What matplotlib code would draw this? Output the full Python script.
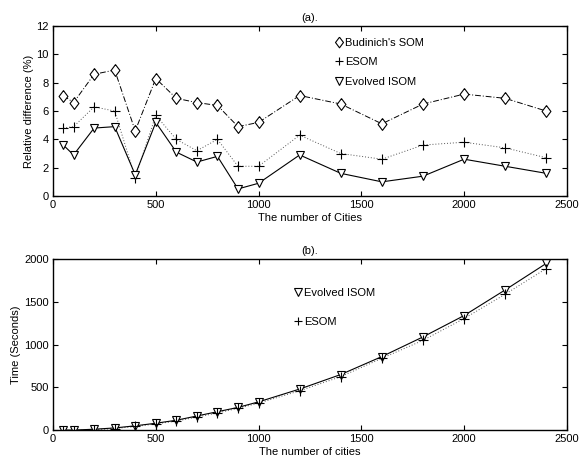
import matplotlib
matplotlib.use('Agg')
from matplotlib import pyplot as plt

plt.rcParams['font.family'] = ['Liberation Sans', 'DejaVu Sans']
plt.rcParams['font.size'] = 8

cities = [50, 100, 200, 300, 400, 500, 600, 700, 800, 900, 1000, 1200, 1400, 1600, 1800, 2000, 2200, 2400]

# (a) relative difference (%)
budinich = [7.1, 6.6, 8.6, 8.9, 4.6, 8.3, 6.9, 6.6, 6.4, 4.9, 5.2, 7.1, 6.5, 5.1, 6.5, 7.2, 6.9, 6.0]
esom_diff = [4.8, 4.9, 6.3, 6.0, 1.3, 5.7, 4.0, 3.2, 4.0, 2.1, 2.1, 4.3, 3.0, 2.6, 3.6, 3.8, 3.4, 2.7]
isom_diff = [3.6, 2.9, 4.8, 4.9, 1.5, 5.2, 3.1, 2.4, 2.8, 0.5, 0.9, 2.9, 1.6, 1.0, 1.4, 2.6, 2.1, 1.6]

# (b) time (seconds)
isom_time = [0, 0, 10, 25, 50, 80, 115, 165, 215, 265, 330, 480, 650, 860, 1090, 1340, 1640, 1950]
esom_time = [-8, -5, 3, 18, 42, 72, 105, 152, 200, 255, 315, 460, 625, 840, 1050, 1305, 1590, 1890]

# matlab-like diamond (taller than wide)
diamond = [(0, 1), (0.75, 0), (0, -1), (-0.75, 0), (0, 1)]

fig = plt.figure(figsize=(5.8, 4.59), dpi=100)
ax1 = fig.add_axes([0.0914, 0.573, 0.886, 0.370])
ax2 = fig.add_axes([0.0914, 0.063, 0.886, 0.3725])

mk = dict(color='black', markerfacecolor='white', markeredgecolor='black', markeredgewidth=0.8)

ax1.plot(cities, budinich, linestyle=(0, (6, 2, 1, 2)), linewidth=0.7, color='black')
ax1.plot(cities, esom_diff, linestyle=(0, (1, 2)), linewidth=0.7, color='#555555')
ax1.plot(cities, isom_diff, linestyle='-', linewidth=0.8, color='black')
ax1.plot(cities, budinich, linestyle='none', marker=diamond, markersize=8.5, label="Budinich's SOM", **mk)
ax1.plot(cities, esom_diff, '+', markersize=6.5, label='ESOM', color='black', markeredgewidth=0.8)
ax1.plot(cities, isom_diff, 'v', markersize=6, label='Evolved ISOM', **mk)

ax1.set_xlim(0, 2500)
ax1.set_ylim(0, 12)
ax1.set_yticks(range(0, 13, 2))
ax1.set_xlabel('The number of Cities', labelpad=2)
ax1.set_ylabel('Relative difference (%)', labelpad=2)
ax1.set_title('(a).', fontsize=8, pad=4)
ax1.legend(loc='upper left', bbox_to_anchor=(0.53, 0.99), frameon=False, markerscale=0.9,
           handlelength=0.6, handletextpad=0.3, labelspacing=0.85)

ax2.plot(cities, esom_time, linestyle=(0, (1, 2)), linewidth=0.7, color='#555555')
ax2.plot(cities, isom_time, linestyle='-', linewidth=0.8, color='black')
ax2.plot(cities, isom_time, 'v', markersize=6, label='Evolved ISOM', **mk)
ax2.plot(cities, esom_time, '+', markersize=6.5, label='ESOM', color='black', markeredgewidth=0.8)

ax2.set_xlim(0, 2500)
ax2.set_ylim(0, 2000)
ax2.set_yticks(range(0, 2001, 500))
ax2.set_xlabel('The number of cities', labelpad=2)
ax2.set_ylabel('Time (Seconds)', labelpad=2)
ax2.set_title('(b).', fontsize=8, pad=4)
ax2.legend(loc='upper left', bbox_to_anchor=(0.45, 0.89), frameon=False, markerscale=0.9,
           handlelength=0.6, handletextpad=0.3, labelspacing=1.7)

for ax in (ax1, ax2):
    ax.set_xticks(range(0, 2501, 500))
    ax.tick_params(direction='in', top=True, right=True, length=3.5, width=0.8, pad=3)
    for s in ax.spines.values():
        s.set_linewidth(1.0)

plt.savefig('out.png', dpi=100)
